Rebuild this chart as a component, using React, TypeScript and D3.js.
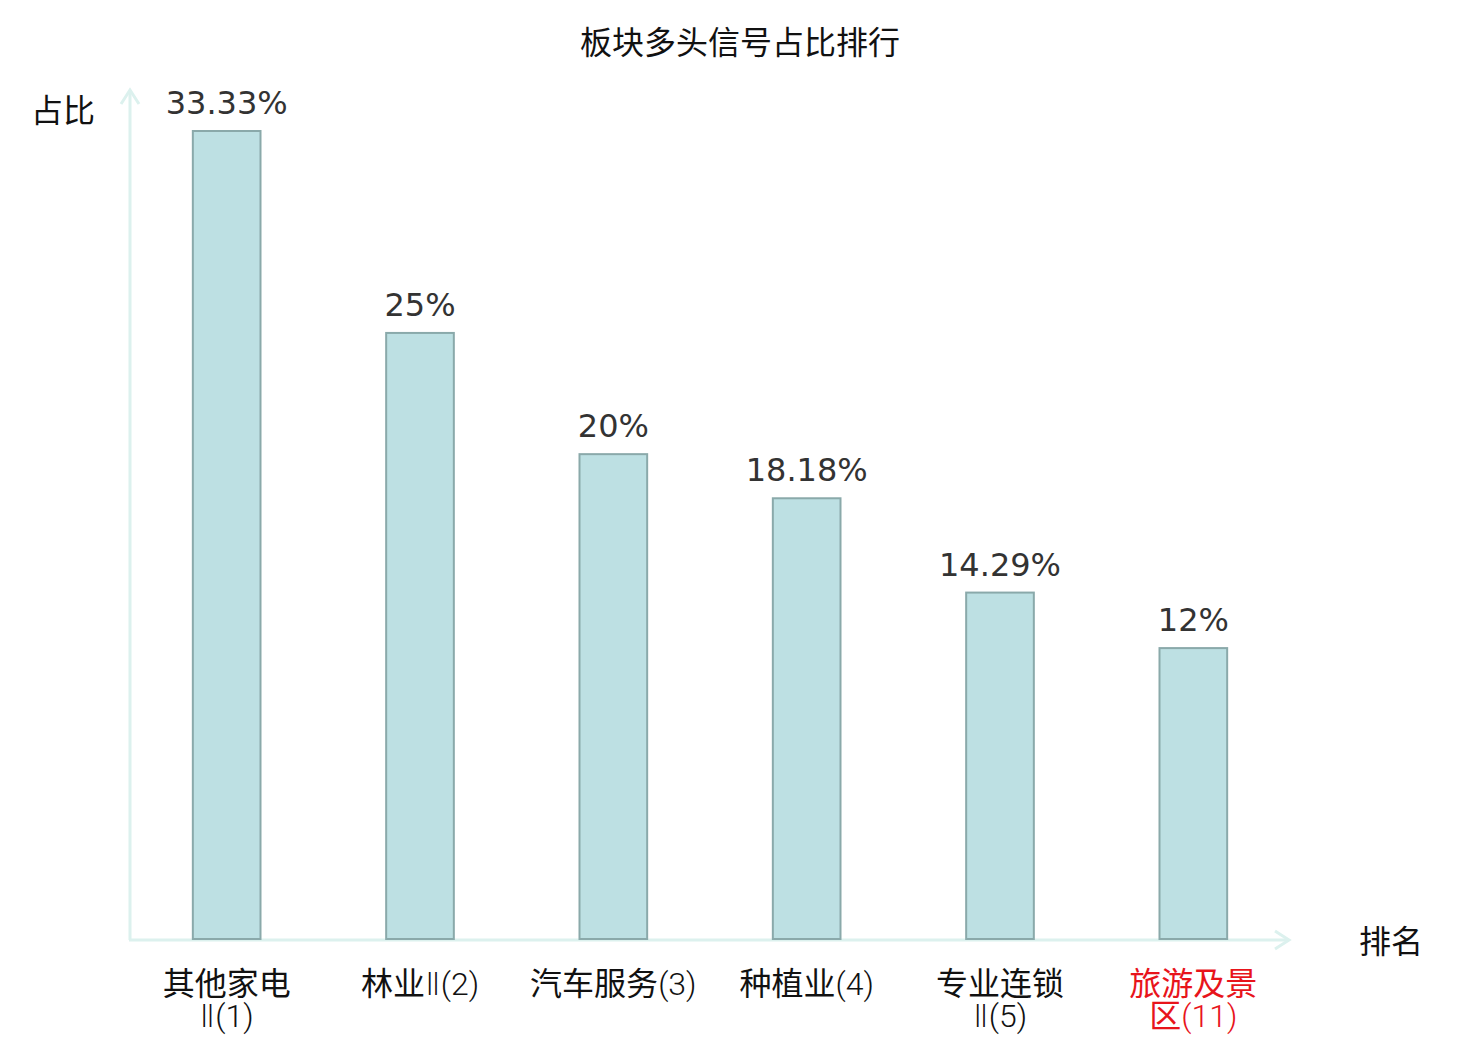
import React, { useEffect, useRef } from 'react';
import * as d3 from 'd3';

// Chart data
const categories: string[] = [
  '其他家电\nⅡ(1)',
  '林业Ⅱ(2)',
  '汽车服务(3)',
  '种植业(4)',
  '专业连锁\nⅡ(5)',
  '旅游及景\n区(11)',
];
const shares: number[] = [33.33, 25, 20, 18.18, 14.29, 12];
const valueLabels: string[] = ['33.33%', '25%', '20%', '18.18%', '14.29%', '12%'];
const highlighted: number[] = [5];

const CJK = '"Noto Sans CJK SC", "Noto Sans", sans-serif';
const LATIN_LIGHT = 'Roboto, "DejaVu Sans", sans-serif';

// split a label line into CJK runs and latin runs (the latin ones are drawn light)
const splitRuns = (s: string) => s.match(/[\u4e00-\u9fff]+|[^\u4e00-\u9fff]+/g) || [];

const App: React.FC = () => {
  const svgRef = useRef<SVGSVGElement | null>(null);

  useEffect(() => {
    if (!svgRef.current) return;
    d3.select(svgRef.current).selectAll('*').remove();

    const width = 1480;
    const height = 1040;
    const x0 = 130;
    const x1 = 1290;
    const baseY = 939;
    const topY = 131;

    const svg = d3.select(svgRef.current)
      .attr('width', width)
      .attr('height', height)
      .attr('viewBox', `0 0 ${width} ${height}`)
      .style('position', 'absolute')
      .style('left', '0px')
      .style('top', '0px')
      .style('background', '#fff');

    // Title
    svg.append('text')
      .attr('x', 740)
      .attr('y', 54)
      .attr('text-anchor', 'middle')
      .attr('font-family', CJK)
      .attr('font-size', 32)
      .attr('fill', '#111')
      .text('板块多头信号占比排行');

    const xScale = d3.scaleBand<number>()
      .domain(d3.range(categories.length))
      .range([x0, x1])
      .paddingInner(0.65)
      .paddingOuter(0.325);

    const yScale = d3.scaleLinear()
      .domain([0, d3.max(shares) as number])
      .range([baseY, topY]);

    // Axes with arrows
    const axisColor = '#dcf1ee';
    svg.append('line')
      .attr('x1', x0).attr('y1', baseY + 1)
      .attr('x2', x0).attr('y2', 90)
      .attr('stroke', axisColor).attr('stroke-width', 3);
    svg.append('path')
      .attr('d', `M${x0 - 9},${104} L${x0},${90} L${x0 + 9},${104}`)
      .attr('fill', 'none').attr('stroke', axisColor).attr('stroke-width', 3);
    svg.append('line')
      .attr('x1', x0 - 1).attr('y1', baseY + 1)
      .attr('x2', 1289).attr('y2', baseY + 1)
      .attr('stroke', axisColor).attr('stroke-width', 3);
    svg.append('path')
      .attr('d', `M${1275},${baseY - 8} L${1289},${baseY + 1} L${1275},${baseY + 10}`)
      .attr('fill', 'none').attr('stroke', axisColor).attr('stroke-width', 3);

    // Axis names
    svg.append('text')
      .attr('x', 63).attr('y', 122)
      .attr('text-anchor', 'middle')
      .attr('font-family', CJK).attr('font-size', 32).attr('fill', '#111')
      .text('占比');
    svg.append('text')
      .attr('x', 1391).attr('y', 953)
      .attr('text-anchor', 'middle')
      .attr('font-family', CJK).attr('font-size', 32).attr('fill', '#111')
      .text('排名');

    // Bars
    svg.selectAll('rect.bar')
      .data(shares)
      .enter()
      .append('rect')
      .attr('class', 'bar')
      .attr('x', (_, i) => (xScale(i) as number))
      .attr('y', d => yScale(d))
      .attr('width', xScale.bandwidth())
      .attr('height', d => baseY - yScale(d))
      .attr('fill', '#bde0e3')
      .attr('stroke', '#8aa9aa')
      .attr('stroke-width', 2);

    // Value labels
    svg.selectAll('text.val')
      .data(shares)
      .enter()
      .append('text')
      .attr('class', 'val')
      .attr('x', (_, i) => (xScale(i) as number) + xScale.bandwidth() / 2)
      .attr('y', d => yScale(d) - 17)
      .attr('text-anchor', 'middle')
      .attr('font-family', '"DejaVu Sans", sans-serif')
      .attr('font-size', 32)
      .attr('fill', '#333')
      .text((_, i) => valueLabels[i]);

    // Category labels
    categories.forEach((c, i) => {
      const cx = (xScale(i) as number) + xScale.bandwidth() / 2;
      c.split('\n').forEach((line, j) => {
        const t = svg.append('text')
          .attr('x', cx)
          .attr('y', 995 + j * 32)
          .attr('text-anchor', 'middle')
          .attr('font-family', CJK)
          .attr('font-size', 32)
          .attr('fill', highlighted.includes(i) ? '#e8141b' : '#111');
        splitRuns(line).forEach(run => {
          const isCjk = /[\u4e00-\u9fff]/.test(run);
          const span = t.append('tspan').text(run);
          if (!isCjk) {
            span.attr('font-family', LATIN_LIGHT).attr('font-weight', 300);
          }
        });
      });
    });
  }, []);

  return <svg ref={svgRef}></svg>;
};

export default App;
